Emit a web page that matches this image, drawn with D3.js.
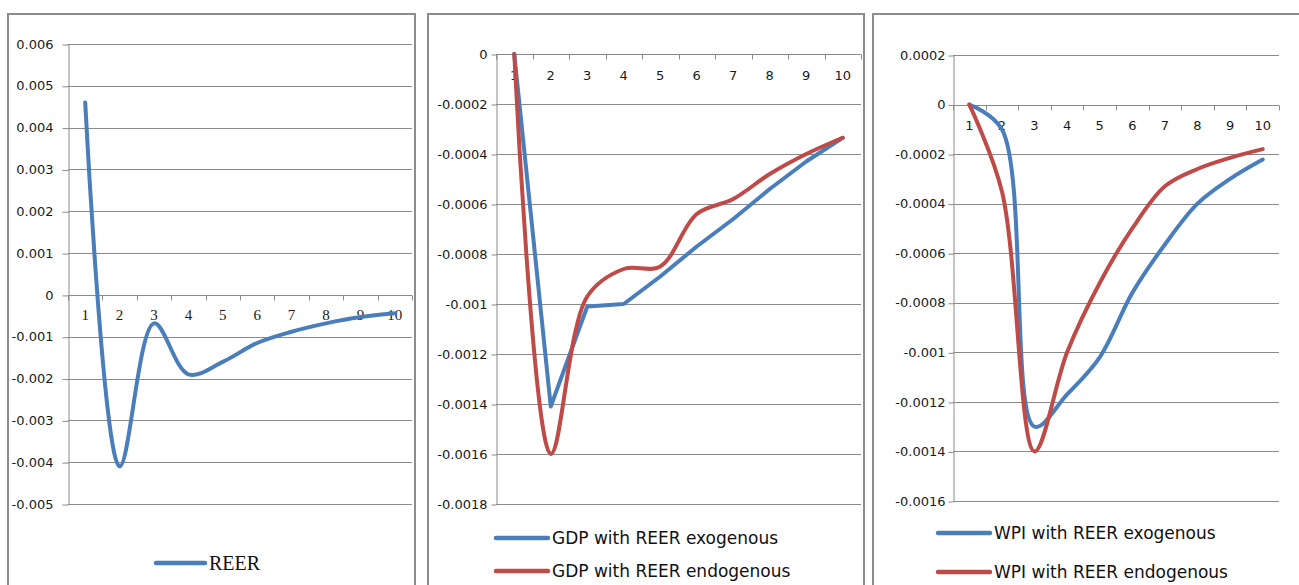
<!DOCTYPE html>
<html>
<head>
<meta charset="utf-8">
<script src="https://cdn.jsdelivr.net/npm/d3@7"></script>
<style>
  body { margin: 0; background: #fff; }
  svg { display: block; }
</style>
</head>
<body>
<svg id="chart" width="1299" height="585"></svg>
<script>
// periods after the shock
const periods = ['1', '2', '3', '4', '5', '6', '7', '8', '9', '10'];

// y tick values per panel
const reerTicks = [0.006, 0.005, 0.004, 0.003, 0.002, 0.001, 0, -0.001, -0.002, -0.003, -0.004, -0.005];
const gdpTicks = [0, -0.0002, -0.0004, -0.0006, -0.0008, -0.001, -0.0012, -0.0014, -0.0016, -0.0018];
const wpiTicks = [0.0002, 0, -0.0002, -0.0004, -0.0006, -0.0008, -0.001, -0.0012, -0.0014, -0.0016];

// series
const reer = [0.0046, -0.0041, -0.00068, -0.0019, -0.0016, -0.00115, -0.00088, -0.00068, -0.00053, -0.00044];
const gdpExo = [0, -0.00141, -0.00101, -0.00100, -0.00089, -0.00077, -0.00066, -0.00054, -0.00043, -0.000335];
const gdpEndo = [0, -0.0016, -0.00097, -0.00086, -0.00085, -0.00064, -0.00058, -0.00048, -0.00040, -0.000335];
const wpiExo = [0, -0.0001, -0.0013, -0.00117, -0.00102, -0.00076, -0.000565, -0.0004, -0.0003, -0.000222];
const wpiEndo = [0, -0.00035, -0.0014, -0.001, -0.00072, -0.0005, -0.00033, -0.00026, -0.000215, -0.00018];

const blue = '#4a7ebb';
const red = '#be4b48';
const gridCol = '#8a8a8a';
const sans = 'DejaVu Sans, Verdana, sans-serif';
const serif = 'Liberation Serif, Times New Roman, serif';

const svg = d3.select('#chart');
const smooth = d3.curveCatmullRom.alpha(0.5);

function drawPanel(p) {
  const g = svg.append('g');

  // chart frame (runs off the bottom of the picture)
  g.append('rect')
    .attr('x', p.frame[0])
    .attr('y', 14)
    .attr('width', p.frame[1] - p.frame[0])
    .attr('height', 640)
    .attr('fill', 'none')
    .attr('stroke', '#8c8c8c')
    .attr('stroke-width', 2);

  const x = d3.scaleBand().domain(periods).range([p.left, p.right]);
  const y = d3.scaleLinear().domain(d3.extent(p.ticks)).range([p.bottom, p.top]);
  const cx = i => x(periods[i]) + x.bandwidth() / 2;
  const py = v => Math.round(y(v)) + 0.5;

  // horizontal gridlines
  g.append('g')
    .selectAll('line')
    .data(p.ticks)
    .join('line')
    .attr('x1', p.left)
    .attr('x2', p.right)
    .attr('y1', d => py(d))
    .attr('y2', d => py(d))
    .attr('stroke', gridCol)
    .attr('stroke-width', 1);

  // y axis
  const yAxis = g.append('g')
    .attr('transform', `translate(${Math.round(p.left) + 0.5},0)`)
    .call(d3.axisLeft(y).tickValues(p.ticks).tickSize(p.tick).tickSizeOuter(0)
      .tickPadding(p.yPad).tickFormat(d => String(d)));
  yAxis.selectAll('line').attr('stroke', gridCol).attr('transform', 'translate(0,0.5)');
  yAxis.select('.domain').attr('stroke', gridCol);
  yAxis.selectAll('text')
    .attr('font-family', sans)
    .attr('font-size', 13)
    .attr('fill', '#1a1a1a');

  // category axis on the zero line, ticks between categories
  const y0 = py(0);
  g.append('g')
    .selectAll('line')
    .data(d3.range(periods.length + 1))
    .join('line')
    .attr('x1', i => Math.round(p.left + i * x.step()) + 0.5)
    .attr('x2', i => Math.round(p.left + i * x.step()) + 0.5)
    .attr('y1', y0)
    .attr('y2', y0 + 5)
    .attr('stroke', gridCol);

  const xAxis = g.append('g')
    .attr('transform', `translate(0,${y0})`)
    .call(d3.axisBottom(x).tickSize(0).tickPadding(p.xPad));
  xAxis.select('.domain').remove();
  xAxis.selectAll('text')
    .attr('font-family', p.xFont)
    .attr('font-size', p.xSize)
    .attr('fill', '#1a1a1a');

  // series
  p.series.forEach(s => {
    g.append('path')
      .datum(s.values)
      .attr('fill', 'none')
      .attr('stroke', s.color)
      .attr('stroke-width', 4)
      .attr('stroke-linecap', 'round')
      .attr('stroke-linejoin', 'round')
      .attr('d', d3.line().x((d, i) => cx(i)).y(d => y(d)).curve(s.smooth ? smooth : d3.curveLinear));
  });

  // legend
  p.series.forEach((s, i) => {
    const ly = p.legendY[i];
    g.append('line')
      .attr('x1', p.legendX)
      .attr('x2', p.legendX + p.legendLen)
      .attr('y1', ly)
      .attr('y2', ly)
      .attr('stroke', s.color)
      .attr('stroke-width', 4.5)
      .attr('stroke-linecap', 'round');
    g.append('text')
      .attr('x', p.legendX + p.legendLen + 4)
      .attr('y', ly + p.legendDy)
      .attr('font-family', p.legendFont)
      .attr('font-size', p.legendSize)
      .attr('fill', '#111')
      .text(s.name);
  });
}

drawPanel({
  frame: [8, 415],
  left: 68, right: 412, top: 44, bottom: 504,
  ticks: reerTicks, tick: 6, yPad: 9,
  xFont: serif, xSize: 15, xPad: 14,
  series: [{ name: 'REER', values: reer, color: blue, smooth: true }],
  legendX: 156, legendLen: 49, legendY: [563], legendDy: 7,
  legendFont: serif, legendSize: 20
});

drawPanel({
  frame: [428, 864],
  left: 496, right: 861, top: 54, bottom: 504,
  ticks: gdpTicks, tick: 5, yPad: 4,
  xFont: sans, xSize: 13, xPad: 16,
  series: [
    { name: 'GDP with REER exogenous', values: gdpExo, color: blue, smooth: false },
    { name: 'GDP with REER endogenous', values: gdpEndo, color: red, smooth: true }
  ],
  legendX: 496, legendLen: 52, legendY: [538, 571], legendDy: 6,
  legendFont: sans, legendSize: 17
});

drawPanel({
  frame: [873, 1320],
  left: 953, right: 1279, top: 55, bottom: 501,
  ticks: wpiTicks, tick: 5, yPad: 3,
  xFont: sans, xSize: 13, xPad: 15,
  series: [
    { name: 'WPI with REER exogenous', values: wpiExo, color: blue, smooth: true },
    { name: 'WPI with REER endogenous', values: wpiEndo, color: red, smooth: true }
  ],
  legendX: 938, legendLen: 52, legendY: [533, 572], legendDy: 6,
  legendFont: sans, legendSize: 17
});
</script>
</body>
</html>
